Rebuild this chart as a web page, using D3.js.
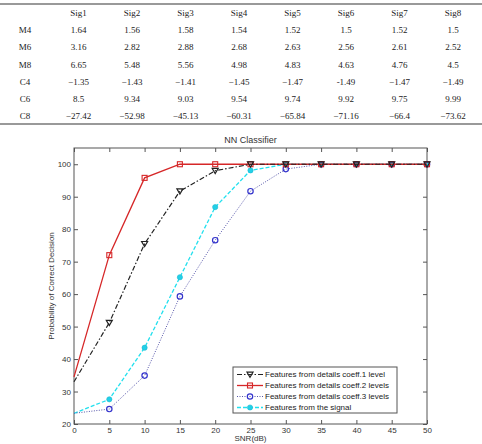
<!DOCTYPE html>
<html>
<head>
<meta charset="utf-8">
<script src="https://cdn.jsdelivr.net/npm/d3@7"></script>
<style>
  body { margin: 0; background: #fff; }
  svg { display: block; }
</style>
</head>
<body>
<svg id="chart"></svg>
<script>
// Size of the page
const width = 482;
const height = 444;

// Table data
const sigNames = ["Sig1", "Sig2", "Sig3", "Sig4", "Sig5", "Sig6", "Sig7", "Sig8"];
const rowNames = ["M4", "M6", "M8", "C4", "C6", "C8"];
const rowM4 = ["1.64", "1.56", "1.58", "1.54", "1.52", "1.5", "1.52", "1.5"];
const rowM6 = ["3.16", "2.82", "2.88", "2.68", "2.63", "2.56", "2.61", "2.52"];
const rowM8 = ["6.65", "5.48", "5.56", "4.98", "4.83", "4.63", "4.76", "4.5"];
const rowC4 = ["\u22121.35", "\u22121.43", "\u22121.41", "\u22121.45", "\u22121.47", "-1.49", "\u22121.47", "\u22121.49"];
const rowC6 = ["8.5", "9.34", "9.03", "9.54", "9.74", "9.92", "9.75", "9.99"];
const rowC8 = ["\u221227.42", "\u221252.98", "\u221245.13", "\u221260.31", "\u221265.84", "\u221271.16", "\u221266.4", "\u221273.62"];
const tableRows = [rowM4, rowM6, rowM8, rowC4, rowC6, rowC8];

// Chart data
const snr = [0, 5, 10, 15, 20, 25, 30, 35, 40, 45, 50];
const coeff1 = [33, 51.2, 75.5, 91.7, 98, 100, 100, 100, 100, 100, 100];
const coeff2 = [34.5, 72, 95.8, 100, 100, 100, 100, 100, 100, 100, 100];
const coeff3 = [23.3, 24.6, 34.9, 59.3, 76.6, 91.7, 98.5, 100, 100, 100, 100];
const signal = [23.3, 27.6, 43.5, 65.2, 86.8, 98.1, 100, 100, 100, 100, 100];
const xTicks = [0, 5, 10, 15, 20, 25, 30, 35, 40, 45, 50];
const yTicks = [20, 30, 40, 50, 60, 70, 80, 90, 100];

const svg = d3.select("#chart")
  .attr("width", width)
  .attr("height", height);

// ---- Table ----
const colX = d3.scalePoint()
  .domain(["", ...sigNames])
  .range([25, 453]);
const rowY = d3.scalePoint()
  .domain(["head", ...rowNames])
  .range([13, 116]);

const table = svg.append("g")
  .attr("font-family", "'Liberation Serif', 'Times New Roman', serif")
  .attr("font-size", 9)
  .attr("fill", "#222");

table.append("line")
  .attr("x1", 0).attr("x2", width)
  .attr("y1", 4).attr("y2", 4)
  .attr("stroke", "#777").attr("stroke-width", 1.3);
table.append("line")
  .attr("x1", 0).attr("x2", width)
  .attr("y1", 124).attr("y2", 124)
  .attr("stroke", "#777").attr("stroke-width", 1.3);

table.selectAll(".head")
  .data(sigNames)
  .enter()
  .append("text")
  .attr("x", d => colX(d))
  .attr("y", rowY("head"))
  .attr("dy", "0.35em")
  .attr("text-anchor", "middle")
  .text(d => d);

rowNames.forEach((name, i) => {
  table.append("text")
    .attr("x", colX(""))
    .attr("y", rowY(name))
    .attr("dy", "0.35em")
    .attr("text-anchor", "middle")
    .text(name);
  table.selectAll(".cell" + i)
    .data(tableRows[i])
    .enter()
    .append("text")
    .attr("x", (d, j) => colX(sigNames[j]))
    .attr("y", rowY(name))
    .attr("dy", "0.35em")
    .attr("text-anchor", "middle")
    .text(d => d);
});

// ---- Chart ----
const plot = { left: 74, right: 427, top: 148, bottom: 424 };

const x = d3.scaleLinear().domain([0, 50]).range([plot.left, plot.right]);
const y = d3.scaleLinear().domain([20, 105]).range([plot.bottom, plot.top]);

const chart = svg.append("g")
  .attr("font-family", "'Liberation Sans', Arial, sans-serif")
  .attr("font-size", 8)
  .attr("fill", "#333");

chart.append("text")
  .attr("x", (plot.left + plot.right) / 2)
  .attr("y", 143)
  .attr("text-anchor", "middle")
  .attr("font-size", 9)
  .text("NN Classifier");

// Axes (MATLAB style: ticks inward on all sides)
const axisColor = "#555";
function styleAxis(g) {
  g.select(".domain").remove();
  g.selectAll(".tick line").attr("stroke", axisColor);
  g.selectAll(".tick text").attr("fill", "#333").attr("font-size", 8)
    .attr("font-family", "'Liberation Sans', Arial, sans-serif");
}

chart.append("g")
  .attr("transform", `translate(0,${plot.bottom})`)
  .call(d3.axisBottom(x).tickValues(xTicks).tickSize(-4).tickPadding(3))
  .call(styleAxis);
chart.append("g")
  .attr("transform", `translate(0,${plot.top})`)
  .call(d3.axisTop(x).tickValues(xTicks).tickSize(-4).tickFormat(""))
  .call(styleAxis);
chart.append("g")
  .attr("transform", `translate(${plot.left},0)`)
  .call(d3.axisLeft(y).tickValues(yTicks).tickSize(-4).tickPadding(3))
  .call(styleAxis);
chart.append("g")
  .attr("transform", `translate(${plot.right},0)`)
  .call(d3.axisRight(y).tickValues(yTicks).tickSize(-4).tickFormat(""))
  .call(styleAxis);

chart.append("rect")
  .attr("x", plot.left).attr("y", plot.top)
  .attr("width", plot.right - plot.left)
  .attr("height", plot.bottom - plot.top)
  .attr("fill", "none")
  .attr("stroke", axisColor)
  .attr("stroke-width", 1);

chart.append("text")
  .attr("x", (plot.left + plot.right) / 2)
  .attr("y", 441)
  .attr("text-anchor", "middle")
  .text("SNR(dB)");

chart.append("text")
  .attr("transform", `translate(54,${(plot.top + plot.bottom) / 2}) rotate(-90)`)
  .attr("text-anchor", "middle")
  .text("Probability of Correct Decision");

// Series
const series = [
  { name: "Features from details coeff.1 level", values: coeff1, color: "#222", dash: "5,2,1.5,2", width: 1.2, marker: "tri" },
  { name: "Features from details coeff.2 levels", values: coeff2, color: "#d62728", dash: null, width: 1.3, marker: "square" },
  { name: "Features from details coeff.3 levels", values: coeff3, color: "#5555aa", dash: "1,1.5", width: 1, marker: "circle" },
  { name: "Features from the signal", values: signal, color: "#22e0ee", dash: "4,2", width: 1.3, marker: "dot" }
];
const markerColor = { tri: "#222", square: "#d62728", circle: "#3333cc", dot: "#22d0e8" };

const line = d3.line()
  .x(d => x(d[0]))
  .y(d => y(d[1]));

function drawMarker(g, type, cx, cy) {
  const c = markerColor[type];
  if (type === "tri") {
    g.append("path")
      .attr("d", `M${cx - 3},${cy - 2.3}L${cx + 3},${cy - 2.3}L${cx},${cy + 2.8}Z`)
      .attr("fill", "none").attr("stroke", c).attr("stroke-width", 1.2);
  } else if (type === "square") {
    g.append("rect")
      .attr("x", cx - 2.5).attr("y", cy - 2.5)
      .attr("width", 5).attr("height", 5)
      .attr("fill", "none").attr("stroke", c).attr("stroke-width", 1.1);
  } else if (type === "circle") {
    g.append("circle")
      .attr("cx", cx).attr("cy", cy).attr("r", 2.7)
      .attr("fill", "none").attr("stroke", c).attr("stroke-width", 1.2);
  } else {
    g.append("circle")
      .attr("cx", cx).attr("cy", cy).attr("r", 2.6)
      .attr("fill", c).attr("stroke", "#1fb8d0").attr("stroke-width", 0.6);
  }
}

// draw in reverse so black / red end up on top
series.slice().reverse().forEach(s => {
  const pts = snr.map((v, i) => [v, s.values[i]]);
  const g = chart.append("g");
  g.append("path")
    .datum(pts)
    .attr("d", line)
    .attr("fill", "none")
    .attr("stroke", s.color)
    .attr("stroke-width", s.width)
    .attr("stroke-dasharray", s.dash);
  // no markers at SNR 0 in the reference
  pts.filter(p => p[0] > 0).forEach(p => drawMarker(g, s.marker, x(p[0]), y(p[1])));
});

// Legend
const legend = chart.append("g");
legend.append("rect")
  .attr("x", 233).attr("y", 367)
  .attr("width", 164).attr("height", 46)
  .attr("fill", "#fff")
  .attr("stroke", axisColor);

series.forEach((s, i) => {
  const ly = 374.5 + i * 11;
  legend.append("line")
    .attr("x1", 237).attr("x2", 263)
    .attr("y1", ly).attr("y2", ly)
    .attr("stroke", s.color)
    .attr("stroke-width", s.width)
    .attr("stroke-dasharray", s.dash);
  drawMarker(legend, s.marker, 250, ly);
  legend.append("text")
    .attr("x", 265)
    .attr("y", ly)
    .attr("dy", "0.35em")
    .attr("font-size", 8)
    .attr("fill", "#222")
    .text(s.name);
});
</script>
</body>
</html>
